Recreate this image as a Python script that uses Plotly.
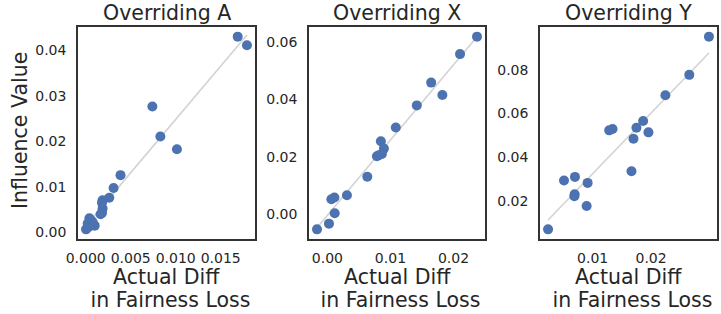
import numpy as np
import plotly.graph_objects as go

titles = ["Overriding A", "Overriding X", "Overriding Y"]
x_title_lines = ["Actual Diff", " in Fairness Loss"]
y_title = "Influence Value"

a_x = [0.01689, 0.01792, 0.00741, 0.00830, 0.01014, 0.00387, 0.00310, 0.00262, 0.00188, 0.00181,
       0.00188, 0.00181, 0.00166, 0.00100, 0.00041, 0.00060, 0.00077, 0.00022, 0.00004, 0.00033]
a_y = [0.0430, 0.0411, 0.02764, 0.02104, 0.01822, 0.01253, 0.00971, 0.00756, 0.00698, 0.00644,
       0.0052, 0.00422, 0.00393, 0.00142, 0.00304, 0.0026, 0.00222, 0.00187, 0.0006, 0.00111]

x_x = [0.02373, 0.02104, 0.01646, 0.01824, 0.01418, 0.01085, 0.00848, 0.00896, 0.00864, 0.00785,
       0.00816, 0.00633, 0.0031, 0.00111, 0.00063, 0.00116, 0.00025, -0.00165]
x_y = [0.06178, 0.0557, 0.0458, 0.0415, 0.03787, 0.03018, 0.02541, 0.02284, 0.02098, 0.02017,
       0.02052, 0.01304, 0.00664, 0.00584, 0.00524, 0.00035, -0.00325, -0.00524]

y_x = [0.0299, 0.02654, 0.02245, 0.01864, 0.0175, 0.01955, 0.01699, 0.01665, 0.01341, 0.01284,
       0.00915, 0.00698, 0.00511, 0.00693, 0.00688, 0.00898, 0.00238]
y_y = [0.0951, 0.07767, 0.06837, 0.05661, 0.05355, 0.05144, 0.04851, 0.03373, 0.05295, 0.05236,
       0.02838, 0.03112, 0.02947, 0.0232, 0.02229, 0.01785, 0.00719]

x_ticks = [[0.000, 0.005, 0.010, 0.015], [0.00, 0.01, 0.02], [0.01, 0.02, 0.03]]
x_fmt = [".3f", ".2f", ".2f"]
y_ticks = [[0.00, 0.01, 0.02, 0.03, 0.04], [0.00, 0.02, 0.04, 0.06], [0.02, 0.04, 0.06, 0.08]]
y_fmt = [".2f", ".2f", ".2f"]

xs = [a_x, x_x, y_x]
ys = [a_y, x_y, y_y]

W, H = 721, 314
x_dom_px = [(78, 255), (309, 485), (540, 717)]
y_dom_px = (27, 239)

FONT = "DejaVu Sans"
TXT = "#262626"
BLUE = "#4C72B0"
BIG = 20.5

fig = go.Figure()
annotations = []

for i in range(3):
    xd = np.array(xs[i]); yd = np.array(ys[i])
    k = "" if i == 0 else str(i + 1)
    m, b = np.polyfit(xd, yd, 1)
    lx = np.array([xd.min(), xd.max()])
    fig.add_trace(go.Scatter(x=lx, y=m * lx + b, mode="lines",
                             line=dict(color="#d3d3d3", width=1.6),
                             xaxis="x" + k, yaxis="y" + k, showlegend=False, hoverinfo="skip"))
    fig.add_trace(go.Scatter(x=xd, y=yd, mode="markers",
                             marker=dict(color=BLUE, size=10, line=dict(width=0)),
                             xaxis="x" + k, yaxis="y" + k, showlegend=False))
    xr = xd.max() - xd.min(); yr = yd.max() - yd.min()
    x0, x1 = x_dom_px[i]
    axis_common = dict(showline=True, mirror=True, linecolor="#333333", linewidth=1.5,
                       showgrid=False, zeroline=False, ticks="outside",
                       tickcolor="rgba(0,0,0,0)", automargin=False,
                       tickfont=dict(family=FONT, size=14, color=TXT))
    fig.update_layout(**{
        "xaxis" + k: dict(domain=[x0 / W, x1 / W], anchor="y" + k,
                          range=[xd.min() - 0.05 * xr, xd.max() + 0.05 * xr],
                          tickvals=x_ticks[i], tickformat=x_fmt[i], ticklen=5,
                          **axis_common),
        "yaxis" + k: dict(domain=[1 - y_dom_px[1] / H, 1 - y_dom_px[0] / H], anchor="x" + k,
                          range=[yd.min() - 0.05 * yr, yd.max() + 0.05 * yr],
                          tickvals=y_ticks[i], tickformat=y_fmt[i], ticklen=7,
                          **axis_common),
    })
    cx = (x0 + x1) / 2 / W
    annotations.append(dict(text=titles[i], x=cx, y=1 - 13 / H,
                            xref="paper", yref="paper", xanchor="center", yanchor="middle",
                            showarrow=False, font=dict(family=FONT, size=BIG, color=TXT)))
    for line, ypx in zip(x_title_lines, (277, 300)):
        annotations.append(dict(text=line, x=cx, y=1 - ypx / H,
                                xref="paper", yref="paper", xanchor="center", yanchor="middle",
                                showarrow=False, font=dict(family=FONT, size=BIG, color=TXT)))

annotations.append(dict(text=y_title, x=20 / W, y=1 - 131 / H, textangle=-90,
                        xref="paper", yref="paper", xanchor="center", yanchor="middle",
                        showarrow=False, font=dict(family=FONT, size=BIG, color=TXT)))

fig.update_layout(
    width=W, height=H, margin=dict(l=0, r=0, t=0, b=0),
    paper_bgcolor="white", plot_bgcolor="white",
    annotations=annotations, showlegend=False,
)

fig.write_html("out.html", config={"displayModeBar": False},
               post_script="document.body.style.margin='0';document.body.style.overflow='hidden';")
